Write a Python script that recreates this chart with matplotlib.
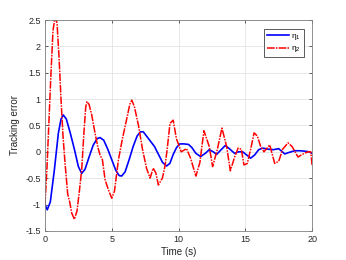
import numpy as np
import matplotlib
matplotlib.use("Agg")
import matplotlib.pyplot as plt

# eta_1 (blue, solid)
t1 = [0, 0.17, 0.4, 0.7, 1.0, 1.2, 1.37, 1.6, 1.9, 2.2, 2.5, 2.75, 3.0, 3.3, 3.6,
      3.9, 4.12, 4.4, 4.7, 5.0, 5.3, 5.55, 5.74, 6.0, 6.3, 6.6, 6.9, 7.15, 7.36,
      7.6, 7.9, 8.2, 8.5, 8.8, 9.1, 9.35, 9.6, 9.85, 10.1, 10.4, 10.75, 11.0,
      11.3, 11.65, 12.0, 12.3, 12.6, 12.85, 13.15, 13.5, 13.8, 14.2, 14.5, 14.8,
      15.1, 15.4, 15.7, 16.0, 16.3, 16.7, 17.1, 17.5, 17.95, 18.3, 18.7, 19.1,
      19.5, 19.8, 20.0]
eta1 = [-1.00, -1.10, -0.95, -0.35, 0.35, 0.62, 0.70, 0.62, 0.35, 0.05, -0.28,
        -0.41, -0.33, -0.10, 0.12, 0.25, 0.27, 0.22, 0.05, -0.15, -0.35, -0.45,
        -0.46, -0.38, -0.15, 0.10, 0.30, 0.38, 0.38, 0.30, 0.20, 0.10, -0.05,
        -0.20, -0.27, -0.22, -0.05, 0.08, 0.15, 0.15, 0.14, 0.08, -0.03, -0.09,
        -0.03, 0.04, 0.00, -0.05, 0.03, 0.12, 0.06, -0.03, 0.00, 0.00, -0.06,
        -0.12, -0.06, 0.04, 0.07, 0.05, 0.04, 0.06, -0.04, -0.01, 0.02, 0.02,
        0.01, 0.00, -0.03]

# eta_2 (red, dash-dot)
t2 = [0, 0.15, 0.3, 0.45, 0.6, 0.75, 0.9, 1.05, 1.2, 1.35, 1.5, 1.7, 1.85, 2.0,
      2.2, 2.4, 2.55, 2.75, 2.9, 3.05, 3.15, 3.3, 3.5, 3.75, 3.95, 4.12, 4.3,
      4.5, 4.75, 5.0, 5.2, 5.5, 5.8, 6.1, 6.35, 6.5, 6.7, 7.0, 7.3, 7.6, 7.87,
      8.1, 8.3, 8.49, 8.79, 9.0, 9.15, 9.36, 9.6, 9.84, 10.2, 10.6, 10.9, 11.3,
      11.6, 11.9, 12.1, 12.3, 12.55, 12.9, 13.25, 13.6, 13.88, 14.2, 14.46, 14.7,
      14.9, 15.15, 15.4, 15.66, 15.9, 16.15, 16.4, 16.83, 17.2, 17.5, 17.8, 18.2,
      18.5, 18.95, 19.25, 19.7, 19.9, 20.0]
eta2 = [-1.00, -0.30, 0.60, 1.50, 2.30, 2.55, 2.45, 1.80, 1.00, 0.30, -0.21,
        -0.80, -0.95, -1.16, -1.28, -1.12, -0.80, -0.34, 0.30, 0.85, 0.95, 0.90,
        0.70, 0.35, 0.10, -0.06, -0.15, -0.53, -0.72, -0.88, -0.75, -0.15, 0.25,
        0.60, 0.90, 0.98, 0.85, 0.50, 0.05, -0.31, -0.50, -0.31, -0.40, -0.63,
        -0.50, -0.25, 0.05, 0.54, 0.60, 0.25, 0.00, 0.06, -0.12, -0.46, -0.20,
        0.40, 0.25, 0.10, -0.28, 0.04, 0.45, 0.10, -0.36, -0.10, 0.07, 0.05,
        -0.25, -0.22, 0.05, 0.36, 0.30, 0.10, 0.00, 0.13, -0.22, -0.18, 0.05,
        0.17, 0.10, -0.10, -0.05, 0.00, 0.00, -0.25]

xticks = [0, 5, 10, 15, 20]
yticks = [-1.5, -1, -0.5, 0, 0.5, 1, 1.5, 2, 2.5]
ytick_labels = ["-1.5", "-1", "-0.5", "0", "0.5", "1", "1.5", "2", "2.5"]

plt.rcParams['font.family'] = ['Liberation Sans', 'DejaVu Sans']

fig = plt.figure(figsize=(3.46, 2.60), dpi=100)
ax = fig.add_axes([0.130, 0.112, 0.772, 0.811])

ax.plot(t1, eta1, color='#0000ff', lw=1.2, label=r'$\mathregular{\eta_1}$')
ax.plot(t2, eta2, color='#ff0000', lw=1.1, linestyle=(0, (5, 0.8, 1, 0.8)),
        label=r'$\mathregular{\eta_2}$')

ax.set_xlim(0, 20)
ax.set_ylim(-1.5, 2.5)
ax.set_xticks(xticks)
ax.set_yticks(yticks)
ax.set_yticklabels(ytick_labels)
ax.grid(True, color='#e3e3e3', lw=0.6)
ax.set_axisbelow(True)
ax.tick_params(direction='in', length=2.5, width=0.5, labelsize=6.5,
               colors='#262626', top=True, right=True, pad=3)
for s in ax.spines.values():
    s.set_color('#808080')
    s.set_linewidth(0.6)

ax.set_xlabel('Time (s)', fontsize=7, color='#262626', labelpad=2)
ax.set_ylabel('Tracking error', fontsize=7, color='#262626', labelpad=4)

leg = ax.legend(loc='upper right', fontsize=6, handlelength=2.6,
                handletextpad=0.3, fancybox=False, framealpha=1, borderpad=0.35,
                bbox_to_anchor=(0.985, 0.975), labelspacing=0.25)
leg.get_frame().set_edgecolor('#404040')
leg.get_frame().set_linewidth(0.6)

fig.savefig('out.png', dpi=100)
